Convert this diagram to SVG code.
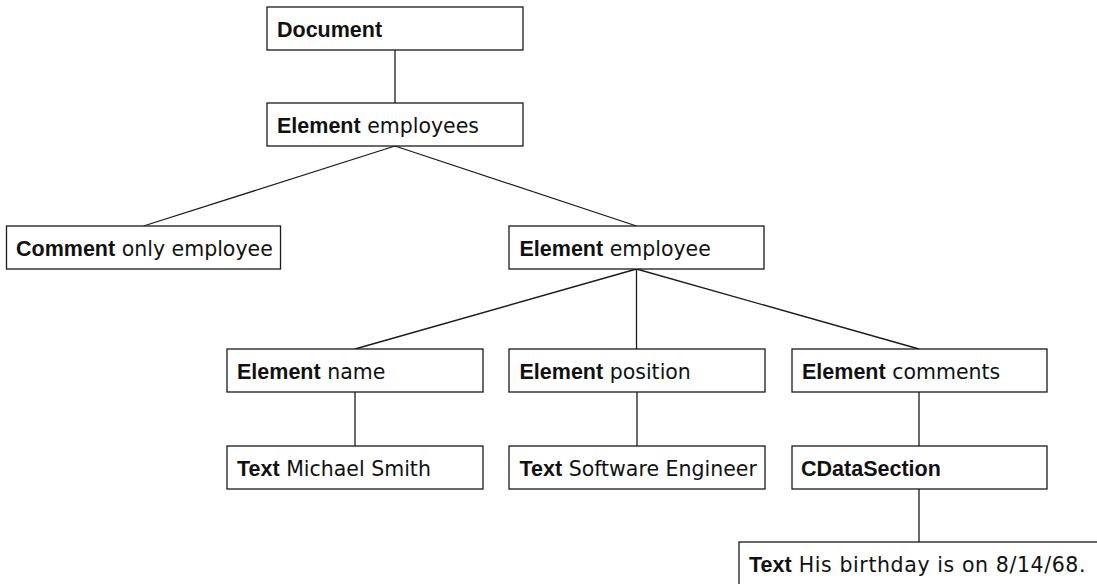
<svg xmlns="http://www.w3.org/2000/svg" width="1097" height="584" viewBox="0 0 1097 584">
<style>
rect.n { fill: #ffffff; stroke: #1a1a1a; stroke-width: 1.3; }
.c line { stroke: #1a1a1a; stroke-width: 1.3; }
text { font-family: "DejaVu Sans", sans-serif; font-size: 20.5px; fill: #111; }
tspan.b { font-family: "Liberation Sans", Arial, sans-serif; font-weight: bold; font-size: 21.5px; letter-spacing: 0; }
tspan.w { letter-spacing: 0.6px; }
</style>
<rect x="0" y="0" width="1097" height="584" fill="#ffffff"/>
<g id="connectors" class="c">
<line x1="395" y1="50" x2="395" y2="103"/>
<line x1="395" y1="146" x2="143.5" y2="226"/>
<line x1="395" y1="146" x2="636.5" y2="226"/>
<line x1="636.5" y1="269" x2="355" y2="349"/>
<line x1="636.5" y1="269" x2="636.5" y2="349"/>
<line x1="636.5" y1="269" x2="919" y2="349"/>
<line x1="355" y1="392" x2="355" y2="446"/>
<line x1="637" y1="392" x2="637" y2="446"/>
<line x1="919" y1="392" x2="919" y2="446"/>
<line x1="919" y1="489" x2="919" y2="542"/>
</g>
<g id="document"><rect class="n" x="267" y="7" width="256" height="43"/><text x="277" y="36.5"><tspan class="b">Document</tspan></text></g>
<g id="employees"><rect class="n" x="267" y="103" width="256" height="43"/><text x="277" y="132.5"><tspan class="b">Element</tspan> employees</text></g>
<g id="comment"><rect class="n" x="6.5" y="226" width="274" height="43"/><text x="16" y="255.5"><tspan class="b">Comment</tspan> only employee</text></g>
<g id="employee"><rect class="n" x="509" y="226" width="255" height="43"/><text x="519.5" y="255.5"><tspan class="b">Element</tspan> employee</text></g>
<g id="name"><rect class="n" x="227" y="349" width="256" height="43"/><text x="237" y="378.5"><tspan class="b">Element</tspan> name</text></g>
<g id="position"><rect class="n" x="509" y="349" width="256" height="43"/><text x="519.5" y="378.5"><tspan class="b">Element</tspan> position</text></g>
<g id="comments"><rect class="n" x="792" y="349" width="255" height="43"/><text x="802" y="378.5"><tspan class="b">Element</tspan> comments</text></g>
<g id="text-name"><rect class="n" x="227" y="446" width="256" height="43"/><text x="237" y="475.5"><tspan class="b">Text</tspan> Michael Smith</text></g>
<g id="text-position"><rect class="n" x="509" y="446" width="256" height="43"/><text x="519.5" y="475.5"><tspan class="b">Text</tspan> Software Engineer</text></g>
<g id="cdata"><rect class="n" x="792" y="446" width="255" height="43"/><text x="801" y="475.5"><tspan class="b">CDataSection</tspan></text></g>
<g id="text-birthday"><rect class="n" x="739" y="542" width="400" height="60"/><text x="749" y="571.5"><tspan class="b">Text</tspan><tspan class="w"> His birthday is on 8/14/68.</tspan></text></g>
</svg>
